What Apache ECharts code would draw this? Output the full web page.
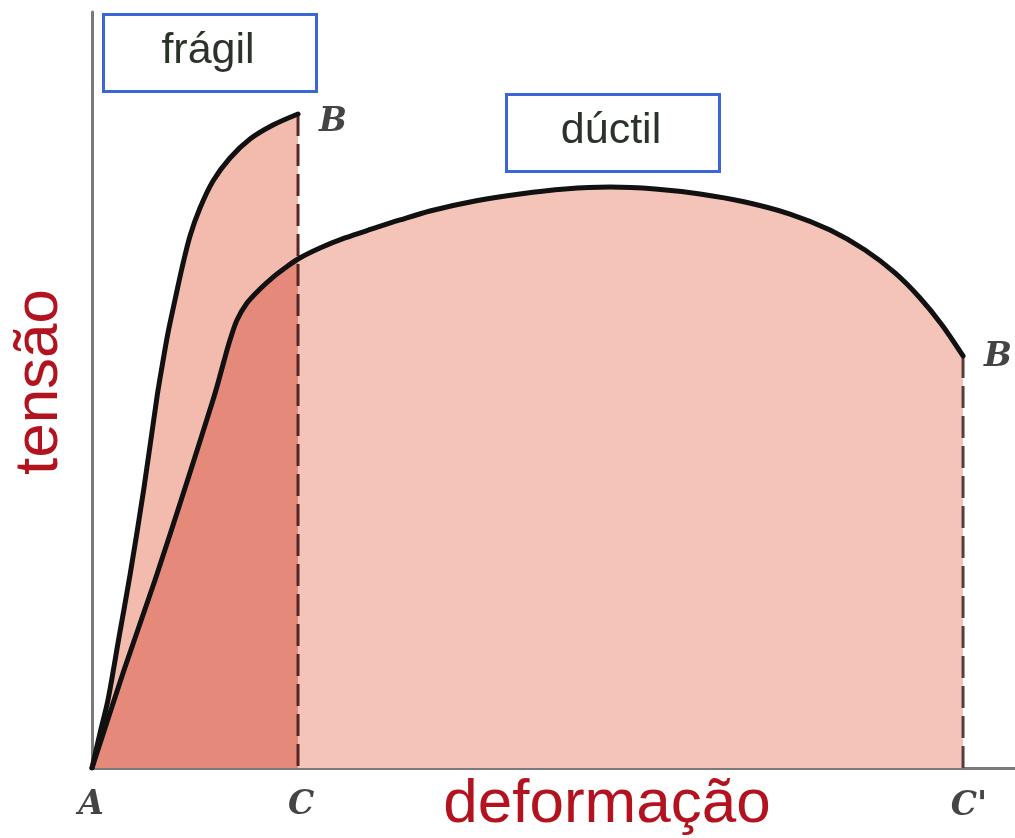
<!DOCTYPE html>
<html>
<head>
<meta charset="utf-8">
<title>tensão × deformação</title>
<script src="https://cdn.jsdelivr.net/npm/echarts@6/dist/echarts.min.js"></script>
<style>
  html, body { margin: 0; padding: 0; background: #ffffff; }
  #chart { width: 1015px; height: 838px; }
</style>
</head>
<body>
<div id="chart"></div>
<script>
// Brittle material: strain / stress (relative units, 0–100)
const brittleStrain = [0, 0.87, 1.73, 2.93, 4.12, 5.63, 7.04, 7.58, 8.23, 8.99, 9.75, 10.62, 11.7, 13.11, 14.95, 17.12, 19.61, 22.32];
const brittleStress = [0, 4.63, 8.99, 17.33, 25.53, 37.04, 49.07, 53.04, 57.54, 61.9, 66.14, 70.37, 74.07, 77.65, 80.69, 83.2, 85.05, 86.51];

// Ductile material: strain / stress (relative units, 0–100)
const ductileStrain = [0, 3.47, 6.83, 10.29, 13.11, 13.65, 14.3, 14.95, 15.71, 16.79, 18.09, 19.5, 20.91, 22.32, 24.7, 27.41, 30.34, 33.37, 36.62, 41.5, 46.37, 51.25, 56.12, 61.0, 65.87, 70.75, 75.62, 79.96, 83.75, 87.0, 89.71, 92.09, 94.37];
const ductileStress = [0, 12.96, 24.87, 37.83, 48.68, 50.93, 53.84, 56.61, 59.26, 61.51, 63.23, 64.81, 66.14, 67.33, 68.78, 70.11, 71.3, 72.49, 73.68, 75.0, 75.93, 76.59, 76.85, 76.59, 75.93, 74.87, 73.28, 71.16, 68.52, 65.48, 62.17, 58.6, 54.5];

// Text drawn on the chart
const boxLabels = ['frágil', 'dúctil'];
const axisTitles = { x: 'deformação', y: 'tensão' };
const pointNames = { origin: 'A', brittleBreak: 'B', brittleFoot: 'C', ductileBreak: 'B', ductileFoot: "C'" };

const pairs = (xs, ys) => xs.map((x, i) => [x, ys[i]]);
const brittle = pairs(brittleStrain, brittleStress);
const ductile = pairs(ductileStrain, ductileStress);
const brittleEnd = brittle[brittle.length - 1];
const ductileEnd = ductile[ductile.length - 1];
// part of the ductile curve that lies under the brittle one (up to the brittle fracture strain)
const overlap = ductile.filter(p => p[0] <= brittleEnd[0]);

const SMOOTH = 0.3;
const curveStroke = { color: '#111111', width: 5, join: 'round', cap: 'round' };
const hiddenStroke = { width: 0, opacity: 0 };

const letterStyle = {
  show: true,
  position: 'inside',
  fontFamily: 'DejaVu Serif',
  fontStyle: 'italic',
  fontWeight: 'bold',
  fontSize: 33,
  color: '#151515',
  formatter: p => p.name
};

const chart = echarts.init(document.getElementById('chart'), null, { renderer: 'canvas' });

chart.setOption({
  backgroundColor: '#ffffff',
  animation: false,
  grid: { left: 92, right: 0, top: 12, bottom: 70, containLabel: false },
  xAxis: {
    type: 'value', min: 0, max: 100,
    axisLine: { show: true, onZero: false, lineStyle: { color: '#7a7a7a', width: 3 } },
    axisTick: { show: false }, axisLabel: { show: false }, splitLine: { show: false }
  },
  yAxis: {
    type: 'value', min: 0, max: 100,
    axisLine: { show: true, onZero: false, lineStyle: { color: '#7a7a7a', width: 3 } },
    axisTick: { show: false }, axisLabel: { show: false }, splitLine: { show: false }
  },
  series: [
    // fills
    { type: 'line', data: ductile, smooth: SMOOTH, showSymbol: false, z: 1,
      lineStyle: hiddenStroke, areaStyle: { color: '#f5c4b8', opacity: 1 } },
    { type: 'line', data: brittle, smooth: SMOOTH, showSymbol: false, z: 2,
      lineStyle: hiddenStroke, areaStyle: { color: '#f3bbad', opacity: 1 } },
    { type: 'line', data: overlap, smooth: SMOOTH, showSymbol: false, z: 3,
      lineStyle: hiddenStroke, areaStyle: { color: '#e5897a', opacity: 1 } },
    // fracture drop lines
    { type: 'line', data: [brittleEnd, [brittleEnd[0], 0]], showSymbol: false, z: 4,
      lineStyle: { color: '#552626', width: 3, type: [22, 8] } },
    { type: 'line', data: [ductileEnd, [ductileEnd[0], 0]], showSymbol: false, z: 4,
      lineStyle: { color: '#573d3d', width: 3, type: [22, 8] } },
    // curves
    { type: 'line', data: ductile, smooth: SMOOTH, showSymbol: false, z: 5, lineStyle: curveStroke },
    { type: 'line', data: brittle, smooth: SMOOTH, showSymbol: false, z: 6, lineStyle: curveStroke },
    // point letters
    { type: 'scatter', symbolSize: 0, z: 7, silent: true, clip: false,
      label: letterStyle,
      data: [
        { name: pointNames.origin, value: [0, 0], label: { offset: [-1, 37] } },
        { name: pointNames.brittleFoot, value: [brittleEnd[0], 0], label: { offset: [3, 37] } },
        { name: pointNames.ductileFoot, value: [ductileEnd[0], 0], label: { offset: [6, 38] } },
        { name: pointNames.brittleBreak, value: brittleEnd, label: { offset: [35, 8] } },
        { name: pointNames.ductileBreak, value: ductileEnd, label: { offset: [35, 1] } }
      ] }
  ],
  graphic: [
    { type: 'rect', left: 102, top: 13, shape: { width: 213, height: 77 },
      style: { fill: '#ffffff', stroke: '#3a66d6', lineWidth: 3 }, z: 20 },
    { type: 'text', x: 208, y: 51, z: 21,
      style: { text: boxLabels[0], fontFamily: 'Liberation Sans', fontSize: 43, fill: '#2a322a', align: 'center', verticalAlign: 'middle' } },
    { type: 'rect', left: 505, top: 93, shape: { width: 213, height: 77 },
      style: { fill: '#ffffff', stroke: '#3a66d6', lineWidth: 3 }, z: 20 },
    { type: 'text', x: 611, y: 131, z: 21,
      style: { text: boxLabels[1], fontFamily: 'Liberation Sans', fontSize: 43, fill: '#2a322a', align: 'center', verticalAlign: 'middle' } },
    { type: 'text', x: 607, y: 805, z: 21,
      style: { text: axisTitles.x, fontFamily: 'Liberation Sans', fontSize: 62, fill: '#b3121f', align: 'center', verticalAlign: 'middle' } },
    { type: 'text', x: 40, y: 382, rotation: Math.PI / 2, z: 21,
      style: { text: axisTitles.y, fontFamily: 'Liberation Sans', fontSize: 62, fill: '#b3121f', align: 'center', verticalAlign: 'middle' } }
  ]
});
</script>
</body>
</html>
